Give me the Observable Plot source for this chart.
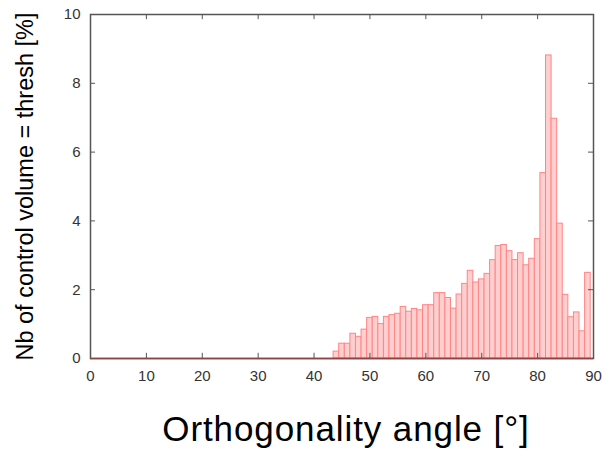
<!DOCTYPE html>
<html><head><meta charset="utf-8">
<script src="https://cdn.jsdelivr.net/npm/d3@7"></script>
<script src="https://cdn.jsdelivr.net/npm/@observablehq/plot@0.6"></script>
<style>body{margin:0;background:#fff} #chart svg{display:block} .xtitle text{letter-spacing:0.9px}</style>
</head><body><div id="chart"></div>
<script>
const angleBins = d3.range(0, 90);
const percentValues = [
  0, 0, 0, 0, 0, 0, 0, 0, 0, 0,
  0, 0, 0, 0, 0, 0, 0, 0, 0, 0,
  0, 0, 0, 0, 0, 0, 0, 0, 0, 0,
  0, 0, 0, 0, 0, 0, 0, 0, 0, 0,
  0, 0, 0, 0, 0.20, 0.43, 0.43, 0.72, 0.63, 0.84,
  1.18, 1.21, 1.00, 1.21, 1.26, 1.30, 1.50, 1.36, 1.44, 1.40,
  1.55, 1.55, 1.90, 1.90, 1.76, 1.45, 1.86, 2.17, 2.55, 2.21,
  2.30, 2.46, 2.86, 3.27, 3.30, 3.12, 2.86, 3.06, 2.71, 2.90,
  3.47, 5.39, 8.81, 6.97, 3.92, 1.85, 1.20, 1.34, 0.79, 2.49
];
const xTicks = [0, 10, 20, 30, 40, 50, 60, 70, 80, 90];
const yTicks = [0, 2, 4, 6, 8, 10];
const xTitle = "Orthogonality angle [°]";
const yTitle = "Nb of control volume = thresh [%]";

const bars = angleBins.map((a, i) => ({angle: a, value: percentValues[i]}));
const innerX = xTicks.slice(1, -1);
const innerY = yTicks.slice(1, -1);

const chart = Plot.plot({
  width: 604, height: 451,
  marginLeft: 90, marginRight: 11, marginTop: 14, marginBottom: 93,
  style: {fontFamily: "'Liberation Sans', Arial, sans-serif", background: "#fff"},
  x: {domain: [0, 90]},
  y: {domain: [0, 10]},
  marks: [
    Plot.rect(bars, {x1: d => d.angle - 0.5, x2: d => d.angle + 0.5, y1: 0, y2: "value",
      fill: "#ffcfcf", stroke: "#ff8585", strokeWidth: 1, clip: true}),
    Plot.frame({stroke: "#555", strokeWidth: 1.5}),
    Plot.ruleY([0], {stroke: "#8b4545", strokeWidth: 1.5}),
    Plot.ruleX(innerX, {y1: 0, y2: 0.15, stroke: "#555"}),
    Plot.ruleX(innerX, {y1: 10, y2: 9.85, stroke: "#555"}),
    Plot.ruleY(innerY, {x1: 0, x2: 0.9, stroke: "#555"}),
    Plot.ruleY(innerY, {x1: 90, x2: 89.1, stroke: "#555"}),
    Plot.axisX({ticks: xTicks, tickSize: 0, tickPadding: 12, fontSize: 15, fill: "#333", label: null}),
    Plot.axisY({ticks: yTicks, tickSize: 0, tickPadding: 10, fontSize: 15, fill: "#333", label: null}),
    Plot.text([xTitle], {text: d => d, frameAnchor: "bottom", dx: 4, dy: 71, fontSize: 35, fill: "#000",
      lineAnchor: "middle", textAnchor: "middle", className: "xtitle"}),
    Plot.text([yTitle], {text: d => d, frameAnchor: "left", rotate: -90, dx: -65.5, dy: 0, fontSize: 23.5, fill: "#000",
      lineAnchor: "middle", textAnchor: "middle"})
  ]
});
document.getElementById("chart").appendChild(chart);
</script>
</body></html>
